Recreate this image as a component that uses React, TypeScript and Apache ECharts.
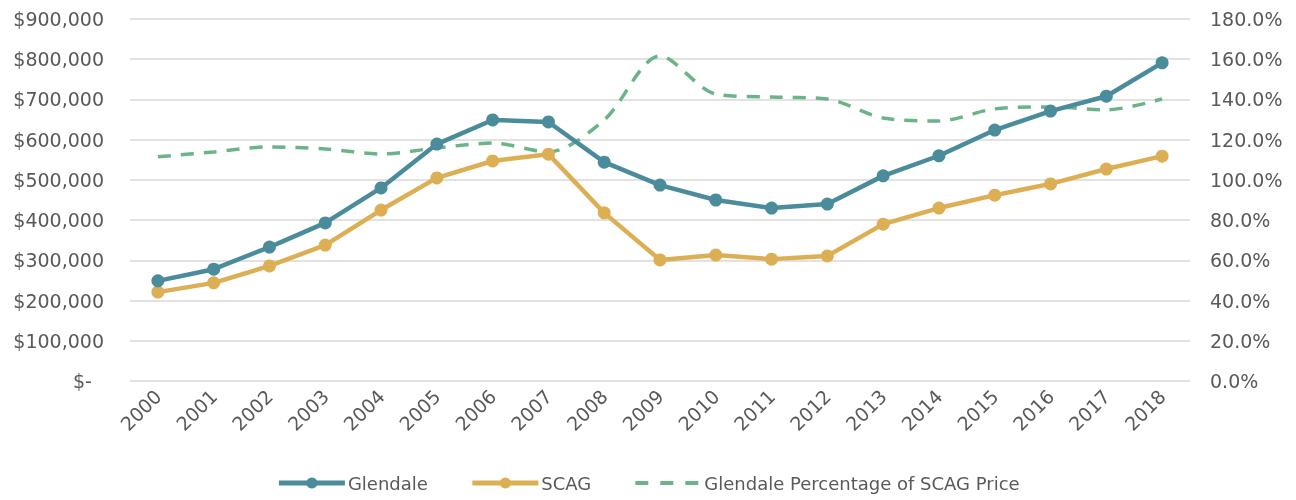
import React, { useEffect, useRef } from "react";
import * as echarts from "echarts";

const years = ["2000","2001","2002","2003","2004","2005","2006","2007","2008","2009","2010","2011","2012","2013","2014","2015","2016","2017","2018"];
const glendale = [249000,278000,333000,393000,480000,589000,649000,644000,544000,487000,450000,430000,440000,510000,560000,624000,671000,708000,791000];
const scag = [221000,244000,286000,338000,425000,505000,547000,564000,418000,301000,313000,303000,311000,390000,430000,462000,490000,527000,559000];
const pct = [111.5,113.9,116.4,115.4,112.9,115.9,118.3,113.9,129.8,161.6,142.7,141.2,140.2,130.8,129.3,135.3,136.3,134.8,140.2];

const FONT = "'DejaVu Sans', sans-serif";
const TXT = "#595959";

export default function App() {
  const ref = useRef<HTMLDivElement>(null);
  useEffect(() => {
    const chart = echarts.init(ref.current!, null, { renderer: "svg" });
    chart.setOption({
      animation: false,
      textStyle: { fontFamily: FONT },
      grid: { left: 130, right: 106, top: 19, bottom: 119, containLabel: false },
      legend: {
        bottom: 3,
        left: "center",
        itemWidth: 66,
        itemHeight: 14,
        itemGap: 42,
        textStyle: { color: TXT, fontSize: 18, fontFamily: FONT, padding: [0, 0, 0, -2] },
        data: [
          { name: "Glendale", lineStyle: { width: 5 } },
          { name: "SCAG", lineStyle: { width: 5 } },
          {
            name: "Glendale Percentage of SCAG Price",
            itemStyle: { opacity: 0 },
            lineStyle: { width: 4, type: [13, 12] },
          },
        ],
      },
      xAxis: {
        type: "category",
        data: years,
        boundaryGap: true,
        axisLine: { show: false },
        axisTick: { show: false },
        axisLabel: { rotate: 45, color: TXT, fontSize: 19, margin: 12, fontFamily: FONT },
      },
      yAxis: [
        {
          type: "value",
          min: 0,
          max: 900000,
          interval: 100000,
          axisLine: { show: false },
          axisTick: { show: false },
          splitLine: { lineStyle: { color: "#d9d9d9", width: 1.5 } },
          axisLabel: {
            color: TXT,
            fontSize: 19,
            margin: 26,
            fontFamily: FONT,
            formatter: (v: number) => (v === 0 ? "$-  " : "$" + v.toLocaleString("en-US")),
          },
        },
        {
          type: "value",
          min: 0,
          max: 180,
          interval: 20,
          axisLine: { show: false },
          axisTick: { show: false },
          splitLine: { show: false },
          axisLabel: {
            color: TXT,
            fontSize: 19,
            margin: 20,
            fontFamily: FONT,
            formatter: (v: number) => v.toFixed(1) + "%",
          },
        },
      ],
      series: [
        {
          name: "Glendale",
          type: "line",
          data: glendale,
          symbol: "circle",
          symbolSize: 13,
          itemStyle: { color: "#4A8C9B" },
          lineStyle: { color: "#4A8C9B", width: 4.5 },
          z: 3,
        },
        {
          name: "SCAG",
          type: "line",
          data: scag,
          symbol: "circle",
          symbolSize: 13,
          itemStyle: { color: "#DDAF55" },
          lineStyle: { color: "#DDAF55", width: 4.5 },
          z: 2,
        },
        {
          name: "Glendale Percentage of SCAG Price",
          type: "line",
          yAxisIndex: 1,
          data: pct,
          smooth: 0.3,
          symbol: "none",
          itemStyle: { color: "#6BB48A" },
          lineStyle: { color: "#6BB48A", width: 3.5, type: [13, 10] },
          z: 1,
        },
      ],
    });
    return () => chart.dispose();
  }, []);
  return <div ref={ref} style={{ position: "fixed", left: 0, top: 0, width: 1296, height: 500 }} />;
}
